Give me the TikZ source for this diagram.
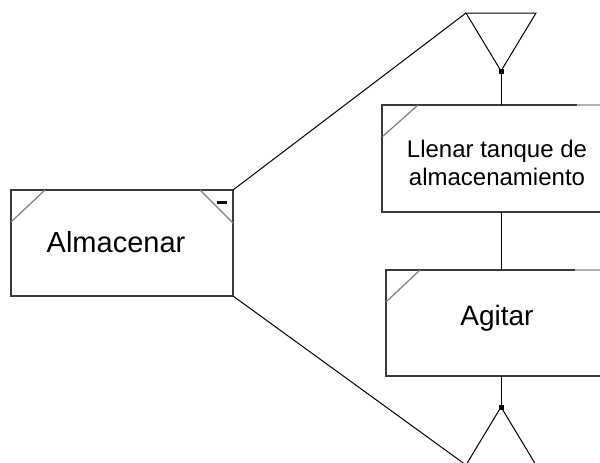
\documentclass[tikz,border=0pt]{standalone}
\usepackage{fontspec}
\setmainfont{Liberation Sans}
\usetikzlibrary{calc}
\definecolor{edge}{HTML}{3A3A3A}
\definecolor{corner}{HTML}{808080}
\begin{document}
\begin{tikzpicture}[x=1pt,y=-1pt,
  box/.style={draw=edge,line width=1.6pt,fill=white,rectangle,inner sep=0pt,outer sep=0pt},
  cornerline/.style={draw=corner,line width=1.2pt},
  link/.style={draw=black,line width=1pt},
  lbl/.style={inner sep=0pt,outer sep=0pt,anchor=base,text=black}]
\useasboundingbox[fill=white] (0,0) rectangle (600,463);

% activity boxes
\node[box,minimum width=222pt,minimum height=106pt] (alm) at (122,243) {};
\node[box,minimum width=238pt,minimum height=107pt] (llenar) at (501,158.5) {};
\node[box,minimum width=230pt,minimum height=106pt] (agitar) at (501,323) {};

% corner marks
\draw[cornerline] ($(alm.north west)+(34,0)$) -- ($(alm.north west)+(0,32)$);
\draw[cornerline] ($(alm.north east)+(-33,0)$) -- ($(alm.north east)+(0,33)$);
\draw[cornerline] ($(llenar.north west)+(36,0)$) -- ($(llenar.north west)+(0,32)$);
\draw[cornerline] ($(agitar.north west)+(34,0)$) -- ($(agitar.north west)+(0,32)$);
\draw[draw=gray!60,line width=1.4pt] (577,105) coordinate (lg1) -- (600,105) coordinate (lg2);
\draw[draw=gray!60,line width=1.4pt] (575,270) coordinate (ag1) -- (600,270) coordinate (ag2);
\fill[black] (217,200.5) rectangle (227,203.5);

% labels
\node[lbl,font=\fontsize{29}{34}\selectfont] (almtxt) at (116,252) {Almacenar};
\node[lbl,font=\fontsize{24}{28}\selectfont] (lltxt1) at (497,157) {Llenar tanque de};
\node[lbl,font=\fontsize{24}{28}\selectfont] (lltxt2) at (497,185) {almacenamiento};
\node[lbl,font=\fontsize{28}{32}\selectfont] (agtxt) at (497,325) {Agitar};

% branch triangles
\coordinate (tl) at (466,13);
\coordinate (tr) at (536,13);
\coordinate (tb) at (501,71);
\coordinate (ba) at (501,407);
\coordinate (bl) at (466,465);
\coordinate (br) at (536,465);
\draw[link,line join=miter] (tl) -- (tr) -- (tb) -- cycle;
\draw[link] (bl) -- (ba) -- (br);
\fill[black] ($(tb)+(-2.5,-2.5)$) rectangle ($(tb)+(2.5,2.5)$);
\fill[black] ($(ba)+(-2.5,-2.5)$) rectangle ($(ba)+(2.5,2.5)$);

% connectors
\draw[link] (tb) -- (llenar.north);
\draw[link] (llenar.south) -- (agitar.north);
\draw[link] (agitar.south) -- (ba);
\draw[link] (alm.north east) -- (tl);
\draw[link] (alm.south east) -- (bl);
\end{tikzpicture}
\end{document}
